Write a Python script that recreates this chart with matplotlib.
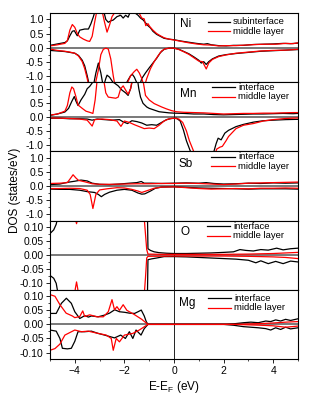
"""Layer-resolved spin DOS: interface vs middle layer, five stacked panels."""

import numpy as np
import matplotlib
matplotlib.use("Agg")
import matplotlib.pyplot as plt
from matplotlib.ticker import MultipleLocator

plt.rcParams["font.family"] = ["Liberation Sans", "DejaVu Sans"]
plt.rcParams["mathtext.default"] = "regular"

# ---- data: (energy eV, DOS states/eV) ----
# Ni
ni_int_up = [(-5.0, 0.08), (-4.7, 0.13), (-4.4, 0.18), (-4.3, 0.24), (-4.2, 0.42), (-4.1, 0.58),
             (-4.02, 0.6), (-3.9, 0.42), (-3.8, 0.62), (-3.6, 0.66), (-3.45, 0.66), (-3.35, 0.85),
             (-3.25, 1.1), (-3.15, 1.4), (-3.0, 1.5), (-2.85, 1.35), (-2.75, 1.0), (-2.65, 0.9),
             (-2.55, 0.95), (-2.45, 0.98), (-2.3, 1.1), (-2.15, 1.15), (-2.05, 1.05), (-1.95, 1.15),
             (-1.85, 1.08), (-1.75, 1.3), (-1.6, 1.25), (-1.45, 1.15), (-1.35, 1.05), (-1.24, 0.98),
             (-1.15, 0.88), (-1.05, 0.78), (-0.95, 0.7), (-0.85, 0.58), (-0.7, 0.47), (-0.55, 0.4),
             (-0.4, 0.33), (-0.2, 0.3), (0.0, 0.28), (0.3, 0.23), (0.6, 0.19), (0.9, 0.15),
             (1.2, 0.12), (1.35, 0.14), (1.5, 0.1), (1.8, 0.07), (2.1, 0.06), (2.4, 0.08),
             (2.8, 0.08), (3.2, 0.11), (3.6, 0.12), (4.0, 0.13), (4.4, 0.15), (4.7, 0.14), (5.0, 0.16)]
ni_mid_up = [(-5.0, 0.06), (-4.7, 0.1), (-4.4, 0.15), (-4.3, 0.25), (-4.2, 0.62), (-4.1, 0.82),
             (-4.0, 0.72), (-3.9, 0.5), (-3.8, 0.38), (-3.65, 0.3), (-3.5, 0.24), (-3.4, 0.22),
             (-3.3, 0.4), (-3.2, 0.9), (-3.1, 1.35), (-3.0, 1.5), (-2.9, 1.3), (-2.8, 0.9),
             (-2.7, 0.55), (-2.6, 0.8), (-2.5, 1.1), (-2.35, 1.3), (-2.2, 1.2), (-2.0, 1.3),
             (-1.8, 1.25), (-1.6, 1.4), (-1.45, 1.3), (-1.3, 1.05), (-1.2, 1.02), (-1.14, 0.78),
             (-1.05, 0.85), (-0.97, 0.74), (-0.85, 0.62), (-0.7, 0.5), (-0.55, 0.42),
             (-0.4, 0.35), (-0.2, 0.3), (0.0, 0.27), (0.3, 0.22), (0.6, 0.17), (0.9, 0.13),
             (1.2, 0.1), (1.5, 0.09), (1.8, 0.06), (2.1, 0.07), (2.5, 0.07), (2.9, 0.09),
             (3.3, 0.11), (3.7, 0.12), (4.1, 0.12), (4.5, 0.15), (4.8, 0.14), (5.0, 0.17)]
ni_int_dn = [(-5.0, -0.1), (-4.7, -0.12), (-4.4, -0.14), (-4.2, -0.17), (-4.0, -0.2), (-3.85, -0.28),
             (-3.7, -0.45), (-3.6, -0.65), (-3.5, -1.0), (-3.4, -1.4), (-3.25, -1.35), (-3.15, -0.9),
             (-3.05, -0.55), (-2.95, -0.9), (-2.85, -1.4), (-2.75, -1.1), (-2.7, -0.98),
             (-2.6, -1.05), (-2.45, -1.25), (-2.2, -1.5), (-2.0, -1.4), (-1.85, -1.15),
             (-1.75, -1.0), (-1.68, -0.95), (-1.6, -1.05), (-1.5, -1.25), (-1.4, -1.4),
             (-1.3, -1.1), (-1.15, -0.9), (-1.0, -0.72), (-0.85, -0.55), (-0.7, -0.38),
             (-0.55, -0.18), (-0.4, -0.06), (-0.2, -0.02), (0.0, -0.02), (0.2, -0.06),
             (0.4, -0.14), (0.6, -0.22), (0.8, -0.33), (1.0, -0.45), (1.1, -0.55), (1.2, -0.5),
             (1.3, -0.6), (1.4, -0.5), (1.55, -0.4), (1.8, -0.3), (2.1, -0.25), (2.5, -0.21),
             (3.0, -0.17), (3.5, -0.13), (4.0, -0.11), (4.5, -0.09), (5.0, -0.07)]
ni_mid_dn = [(-5.0, -0.05), (-4.7, -0.1), (-4.4, -0.13), (-4.2, -0.16), (-4.0, -0.2), (-3.85, -0.3),
             (-3.7, -0.5), (-3.6, -0.75), (-3.5, -1.1), (-3.4, -1.5), (-3.2, -1.4), (-3.05, -0.8),
             (-2.95, -0.25), (-2.85, -0.06), (-2.75, -0.02), (-2.65, -0.05), (-2.55, -0.4),
             (-2.45, -1.0), (-2.35, -1.5), (-2.1, -1.6), (-1.9, -1.3), (-1.75, -1.0),
             (-1.6, -0.85), (-1.5, -0.77), (-1.4, -0.9), (-1.3, -1.1), (-1.2, -1.4),
             (-1.1, -1.1), (-0.95, -0.75), (-0.8, -0.5), (-0.65, -0.3), (-0.5, -0.12),
             (-0.35, -0.04), (-0.2, -0.02), (0.0, -0.02), (0.2, -0.07), (0.4, -0.15),
             (0.6, -0.24), (0.8, -0.36), (1.0, -0.48), (1.15, -0.5), (1.3, -0.76), (1.4, -0.55),
             (1.55, -0.42), (1.8, -0.32), (2.1, -0.26), (2.5, -0.2), (3.0, -0.16), (3.5, -0.12),
             (4.0, -0.1), (4.5, -0.09), (5.0, -0.06)]

# Mn
mn_int_up = [(-5.0, 0.05), (-4.7, 0.1), (-4.4, 0.17), (-4.25, 0.3), (-4.12, 0.55), (-4.02, 0.72),
             (-3.95, 0.55), (-3.87, 0.4), (-3.75, 0.6), (-3.6, 0.8), (-3.5, 1.0), (-3.4, 1.08),
             (-3.3, 1.2), (-3.2, 1.5), (-2.8, 1.4), (-2.6, 1.3), (-2.4, 1.2), (-2.25, 1.1),
             (-2.1, 0.95), (-1.95, 0.85), (-1.85, 0.76), (-1.75, 1.0), (-1.65, 1.4), (-1.5, 1.5),
             (-1.42, 1.0), (-1.35, 0.7), (-1.25, 0.48), (-1.1, 0.35), (-1.0, 0.3), (-0.8, 0.24),
             (-0.6, 0.18), (-0.4, 0.16), (-0.2, 0.14), (0.0, 0.13), (0.4, 0.12), (0.8, 0.1),
             (1.2, 0.1), (1.6, 0.08), (2.0, 0.07), (2.4, 0.08), (2.8, 0.09), (3.2, 0.1),
             (3.6, 0.1), (4.0, 0.11), (4.4, 0.12), (4.8, 0.11), (5.0, 0.12)]
mn_mid_up = [(-5.0, 0.06), (-4.7, 0.1), (-4.4, 0.2), (-4.3, 0.4), (-4.2, 0.85), (-4.12, 1.06),
             (-4.05, 1.0), (-3.95, 0.7), (-3.87, 0.42), (-3.7, 0.3), (-3.55, 0.2), (-3.4, 0.16),
             (-3.27, 0.12), (-3.18, 0.6), (-3.1, 1.3), (-3.0, 1.5), (-2.85, 1.4), (-2.75, 0.85),
             (-2.65, 0.7), (-2.5, 0.68), (-2.35, 0.66), (-2.25, 0.7), (-2.15, 1.0), (-2.05, 1.1),
             (-1.95, 0.95), (-1.85, 0.8), (-1.75, 1.0), (-1.65, 1.5), (-1.4, 1.5), (-1.25, 1.3),
             (-1.15, 0.76), (-1.0, 0.6), (-0.8, 0.47), (-0.5, 0.35), (-0.3, 0.28), (-0.1, 0.22),
             (0.1, 0.18), (0.4, 0.16), (0.8, 0.15), (1.2, 0.14), (1.6, 0.12), (2.0, 0.1),
             (2.4, 0.11), (2.8, 0.12), (3.2, 0.12), (3.6, 0.13), (4.0, 0.13), (4.4, 0.14),
             (4.8, 0.15), (5.0, 0.15)]
mn_int_dn = [(-5.0, -0.05), (-4.6, -0.05), (-4.2, -0.07), (-3.8, -0.07), (-3.5, -0.08),
             (-3.3, -0.12), (-3.1, -0.08), (-2.8, -0.1), (-2.5, -0.12), (-2.2, -0.1),
             (-2.05, -0.18), (-1.87, -0.24), (-1.7, -0.14), (-1.5, -0.17), (-1.3, -0.22),
             (-1.1, -0.3), (-0.9, -0.28), (-0.7, -0.3), (-0.5, -0.2), (-0.3, -0.1), (-0.1, -0.06),
             (0.1, -0.05), (0.25, -0.15), (0.38, -0.47), (0.5, -0.85), (0.65, -1.2), (0.8, -1.5),
             (1.5, -1.5), (1.62, -1.2), (1.7, -0.95), (1.78, -0.76), (1.9, -0.82), (2.05, -0.58),
             (2.2, -0.48), (2.5, -0.35), (2.8, -0.27), (3.2, -0.19), (3.6, -0.14), (4.0, -0.12),
             (4.5, -0.1), (5.0, -0.09)]
mn_mid_dn = [(-5.0, -0.04), (-4.6, -0.05), (-4.2, -0.06), (-3.8, -0.08), (-3.5, -0.12),
             (-3.3, -0.33), (-3.2, -0.1), (-2.9, -0.08), (-2.6, -0.1), (-2.3, -0.15),
             (-2.14, -0.34), (-2.0, -0.15), (-1.8, -0.2), (-1.6, -0.28), (-1.4, -0.35),
             (-1.2, -0.42), (-1.0, -0.4), (-0.8, -0.42), (-0.6, -0.3), (-0.4, -0.15), (-0.2, -0.07),
             (0.0, -0.05), (0.2, -0.08), (0.35, -0.2), (0.5, -0.5), (0.62, -0.85), (0.78, -1.2),
             (0.9, -1.5), (1.6, -1.5), (1.72, -1.15), (1.85, -1.08), (1.95, -1.05), (2.1, -0.85),
             (2.2, -0.7), (2.5, -0.42), (2.8, -0.3), (3.2, -0.24), (3.6, -0.15), (4.0, -0.1),
             (4.5, -0.06), (5.0, -0.04)]

# Sb
sb_int_up = [(-5.0, 0.05), (-4.6, 0.07), (-4.3, 0.13), (-4.0, 0.17), (-3.75, 0.21), (-3.5, 0.18),
             (-3.3, 0.1), (-3.0, 0.06), (-2.6, 0.05), (-2.2, 0.07), (-1.8, 0.1), (-1.5, 0.12),
             (-1.32, 0.16), (-1.2, 0.1), (-0.9, 0.1), (-0.5, 0.09), (0.0, 0.1), (0.5, 0.11),
             (1.0, 0.1), (1.3, 0.12), (1.6, 0.09), (2.0, 0.07), (2.5, 0.08), (3.0, 0.1),
             (3.5, 0.09), (4.0, 0.11), (4.5, 0.1), (5.0, 0.11)]
sb_mid_up = [(-5.0, 0.09), (-4.6, 0.1), (-4.3, 0.12), (-4.15, 0.3), (-4.07, 0.4), (-3.95, 0.28),
             (-3.85, 0.2), (-3.6, 0.15), (-3.3, 0.08), (-3.0, 0.06), (-2.5, 0.06), (-2.0, 0.07),
             (-1.5, 0.08), (-1.0, 0.08), (-0.5, 0.09), (0.0, 0.09), (0.5, 0.1), (1.0, 0.09),
             (1.5, 0.07), (2.0, 0.05), (2.5, 0.07), (3.0, 0.1), (3.5, 0.11), (4.0, 0.12),
             (4.5, 0.13), (5.0, 0.14)]
sb_int_dn = [(-5.0, -0.11), (-4.6, -0.12), (-4.2, -0.12), (-3.8, -0.15), (-3.5, -0.2),
             (-3.2, -0.23), (-3.05, -0.3), (-2.93, -0.38), (-2.8, -0.3), (-2.6, -0.22),
             (-2.3, -0.15), (-2.0, -0.12), (-1.7, -0.15), (-1.45, -0.25), (-1.3, -0.29),
             (-1.18, -0.28), (-0.95, -0.18), (-0.75, -0.08), (-0.5, -0.04), (0.0, -0.03),
             (0.5, -0.05), (1.0, -0.07), (1.5, -0.08), (2.0, -0.09), (2.5, -0.1), (3.0, -0.11),
             (3.5, -0.1), (4.0, -0.1), (4.5, -0.1), (5.0, -0.11)]
sb_mid_dn = [(-5.0, -0.09), (-4.6, -0.09), (-4.2, -0.08), (-3.8, -0.09), (-3.5, -0.15),
             (-3.38, -0.3), (-3.27, -0.8), (-3.15, -0.3), (-3.0, -0.14), (-2.7, -0.1),
             (-2.3, -0.06), (-2.0, -0.07), (-1.7, -0.12), (-1.45, -0.18), (-1.3, -0.23),
             (-1.1, -0.17), (-0.8, -0.08), (-0.5, -0.04), (0.0, -0.03), (0.5, -0.06),
             (1.0, -0.09), (1.5, -0.11), (2.0, -0.1), (2.5, -0.09), (3.0, -0.1), (3.5, -0.08),
             (4.0, -0.08), (4.5, -0.07), (5.0, -0.08)]

# O
o_int_up = [(-5.0, 0.077), (-4.85, 0.09), (-4.75, 0.11), (-4.65, 0.15), (-4.4, 0.2), (-1.08, 0.2),
            (-1.05, 0.023), (-0.95, 0.017), (-0.8, 0.012), (-0.6, 0.009), (-0.3, 0.007),
            (0.0, 0.006), (0.5, 0.006), (1.0, 0.007), (1.5, 0.008), (2.0, 0.01), (2.4, 0.012),
            (2.66, 0.02), (2.9, 0.017), (3.2, 0.015), (3.5, 0.02), (3.8, 0.018), (4.14, 0.025),
            (4.4, 0.019), (4.7, 0.023), (5.0, 0.025)]
o_mid_up = [(-5.0, 0.25), (-4.05, 0.2), (-3.98, 0.13), (-3.93, 0.112), (-3.88, 0.13), (-3.8, 0.2),
            (-1.3, 0.2), (-1.2, 0.13), (-1.1, 0.02), (-1.05, 0.004), (-0.5, 0.003), (0.0, 0.003),
            (1.0, 0.003), (2.0, 0.003), (3.0, 0.004), (3.5, 0.005), (4.0, 0.006), (4.5, 0.008),
            (5.0, 0.01)]
o_int_dn = [(-5.0, -0.072), (-4.85, -0.082), (-4.75, -0.1), (-4.65, -0.15), (-4.4, -0.2),
            (-1.08, -0.2), (-1.05, -0.016), (-0.9, -0.013), (-0.7, -0.01), (-0.4, -0.005),
            (0.0, -0.005), (0.5, -0.006), (1.0, -0.008), (1.5, -0.01), (2.0, -0.012),
            (2.5, -0.014), (3.0, -0.018), (3.3, -0.027), (3.5, -0.02), (3.8, -0.03),
            (4.1, -0.022), (4.4, -0.03), (4.7, -0.021), (5.0, -0.024)]
o_mid_dn = [(-5.0, -0.25), (-4.05, -0.2), (-3.98, -0.12), (-3.93, -0.095), (-3.88, -0.12),
            (-3.8, -0.2), (-1.25, -0.2), (-1.15, -0.08), (-1.1, -0.01), (-1.05, -0.004),
            (0.0, -0.003), (1.0, -0.003), (2.0, -0.003), (3.0, -0.004), (4.0, -0.006),
            (4.5, -0.008), (5.0, -0.012)]

# Mg
mg_int_up = [(-5.0, 0.039), (-4.75, 0.039), (-4.54, 0.075), (-4.34, 0.093), (-4.14, 0.075),
             (-4.0, 0.045), (-3.8, 0.021), (-3.6, 0.031), (-3.45, 0.026), (-3.33, 0.03),
             (-3.06, 0.027), (-2.8, 0.033), (-2.6, 0.04), (-2.39, 0.052), (-2.2, 0.045),
             (-1.99, 0.043), (-1.8, 0.04), (-1.59, 0.039), (-1.45, 0.045), (-1.32, 0.051),
             (-1.2, 0.03), (-1.12, 0.01), (-1.05, 0.0), (2.0, 0.0), (2.4, 0.002), (2.8, 0.006),
             (3.1, 0.008), (3.4, 0.006), (3.7, 0.012), (3.9, 0.01), (4.1, 0.016), (4.3, 0.012),
             (4.5, 0.018), (4.7, 0.014), (5.0, 0.02)]
mg_mid_up = [(-5.0, 0.106), (-4.8, 0.1), (-4.6, 0.07), (-4.35, 0.04), (-4.1, 0.03), (-4.0, 0.024),
             (-3.8, 0.028), (-3.68, 0.048), (-3.6, 0.028), (-3.4, 0.034), (-3.1, 0.027),
             (-2.85, 0.027), (-2.65, 0.045), (-2.5, 0.088), (-2.4, 0.052), (-2.3, 0.063),
             (-2.2, 0.05), (-2.05, 0.07), (-1.9, 0.05), (-1.6, 0.035), (-1.3, 0.018),
             (-1.05, 0.0), (2.5, 0.0), (3.5, 0.003), (4.0, 0.005), (4.5, 0.008), (5.0, 0.01)]
mg_int_dn = [(-5.0, -0.02), (-4.75, -0.024), (-4.6, -0.05), (-4.5, -0.085), (-4.3, -0.087),
             (-4.14, -0.085), (-4.0, -0.06), (-3.87, -0.026), (-3.6, -0.026), (-3.33, -0.024),
             (-3.06, -0.032), (-2.8, -0.038), (-2.4, -0.048), (-2.15, -0.038), (-1.96, -0.05),
             (-1.8, -0.026), (-1.66, -0.05), (-1.53, -0.02), (-1.33, -0.038), (-1.2, -0.015),
             (-1.05, 0.0), (2.0, 0.0), (2.4, -0.003), (2.8, -0.008), (3.1, -0.01), (3.4, -0.012),
             (3.7, -0.015), (3.9, -0.02), (4.1, -0.012), (4.3, -0.018), (4.5, -0.01),
             (4.7, -0.016), (5.0, -0.012)]
mg_mid_dn = [(-5.0, -0.092), (-4.8, -0.086), (-4.6, -0.07), (-4.4, -0.038), (-4.0, -0.02),
             (-3.73, -0.026), (-3.46, -0.024), (-3.06, -0.032), (-2.73, -0.038), (-2.53, -0.05),
             (-2.45, -0.092), (-2.33, -0.05), (-2.2, -0.062), (-2.0, -0.038), (-1.66, -0.032),
             (-1.4, -0.02), (-1.05, 0.0), (2.5, 0.0), (3.5, -0.003), (4.0, -0.005), (4.5, -0.01),
             (5.0, -0.006)]

elements = ["Ni", "Mn", "Sb", "O", "Mg"]
black_labels = ["subinterface", "interface", "interface", "interface", "interface"]
red_label = "middle layer"
series = {
    "Ni": (ni_int_up, ni_int_dn, ni_mid_up, ni_mid_dn),
    "Mn": (mn_int_up, mn_int_dn, mn_mid_up, mn_mid_dn),
    "Sb": (sb_int_up, sb_int_dn, sb_mid_up, sb_mid_dn),
    "O": (o_int_up, o_int_dn, o_mid_up, o_mid_dn),
    "Mg": (mg_int_up, mg_int_dn, mg_mid_up, mg_mid_dn),
}
y_limits = [1.23, 1.23, 1.23, 0.123, 0.123]
y_major = [0.5, 0.5, 0.5, 0.05, 0.05]
y_fmt = ["%.1f", "%.1f", "%.1f", "%.2f", "%.2f"]

# label / legend placement in axes fraction: (label x, label y, line x0, line x1, row1 y)
layout = [
    (0.524, 0.838, 0.637, 0.726, 0.875),
    (0.524, 0.834, 0.652, 0.746, 0.925),
    (0.519, 0.812, 0.649, 0.746, 0.925),
    (0.528, 0.834, 0.633, 0.726, 0.918),
    (0.520, 0.812, 0.637, 0.730, 0.877),
]
ROW_GAP = 0.137   # axes fraction between the two legend rows

RED = "#ff0000"
FS = 7.5
LEG_FS = 6.8

fig, axes = plt.subplots(5, 1, sharex=True, figsize=(3.32, 3.98), dpi=100,
                         gridspec_kw={"hspace": 0})
fig.subplots_adjust(left=50 / 332, right=298 / 332, top=1 - 13 / 398, bottom=1 - 359 / 398)

for i, (ax, el) in enumerate(zip(axes, elements)):
    int_up, int_dn, mid_up, mid_dn = series[el]
    ax.axhline(0, color="#555555", lw=1.1, zorder=1)
    ax.axvline(0, color="#222222", lw=0.7, zorder=1)
    for pts, col in ((int_up, "k"), (int_dn, "k"), (mid_up, RED), (mid_dn, RED)):
        x, y = np.array(pts).T
        ax.plot(x, y, color=col, lw=0.9, zorder=2)

    lim = y_limits[i]
    ax.set_ylim(-lim, lim)
    ax.set_xlim(-5, 5)
    ax.yaxis.set_major_locator(MultipleLocator(y_major[i]))
    ax.yaxis.set_minor_locator(MultipleLocator(y_major[i] / 2))
    ax.yaxis.set_major_formatter(matplotlib.ticker.FormatStrFormatter(y_fmt[i]))
    ax.tick_params(axis="y", which="major", direction="out", length=3, width=0.6,
                   labelsize=FS, pad=1.5)
    ax.tick_params(axis="y", which="minor", direction="out", length=1.5, width=0.5)
    for sp in ax.spines.values():
        sp.set_linewidth(0.8)

    lx, ly, x0, x1, r1 = layout[i]
    ax.text(lx, ly, el, transform=ax.transAxes, fontsize=8.5, va="center", ha="left")
    for yy, col, lab in ((r1, "k", black_labels[i]), (r1 - ROW_GAP, RED, red_label)):
        ax.plot([x0, x1], [yy, yy], color=col, lw=0.9, transform=ax.transAxes)
        ax.text(x1 + 0.012, yy, lab, transform=ax.transAxes, fontsize=LEG_FS,
                va="center", ha="left")

    if i < 4:
        ax.tick_params(axis="x", which="both", length=0, labelbottom=False)

bot = axes[-1]
bot.xaxis.set_major_locator(MultipleLocator(2))
bot.xaxis.set_minor_locator(MultipleLocator(1))
bot.tick_params(axis="x", which="major", direction="out", length=3, width=0.6,
                labelsize=FS, pad=2)
bot.tick_params(axis="x", which="minor", direction="out", length=1.5, width=0.5)
bot.set_xlabel("E-E$_F$ (eV)", fontsize=8.5, labelpad=2)

fig.text(15 / 332, 1 - 190 / 398, "DOS (states/eV)", rotation=90, fontsize=8.5,
         ha="center", va="center")

fig.savefig("out.png", dpi=100)
